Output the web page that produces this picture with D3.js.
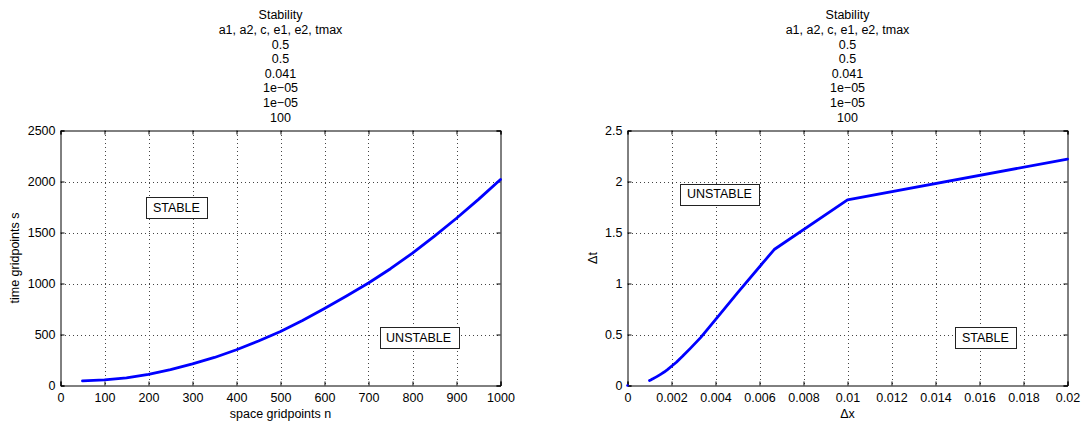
<!DOCTYPE html>
<html>
<head>
<meta charset="utf-8">
<script src="https://cdn.jsdelivr.net/npm/d3@7"></script>
<style>
  html, body { margin: 0; padding: 0; background: #fff; }
  svg { display: block; }
  text { font-family: "Liberation Sans", Arial, Helvetica, sans-serif; fill: #000; }
</style>
</head>
<body>
<svg id="chart" width="1083" height="421"></svg>
<script>
// ---------------- data ----------------
const titleLines = ["Stability", "a1, a2, c, e1, e2, tmax", "0.5", "0.5", "0.041", "1e\u221205", "1e\u221205", "100"];

// left panel: space gridpoints n vs time gridpoints s
const spaceGridpoints = [50, 100, 150, 200, 250, 300, 350, 400, 450, 500, 550, 600, 650, 700, 750, 800, 850, 900, 950, 1000];
const timeGridpoints  = [45, 55, 75, 110, 155, 212, 275, 350, 436, 530, 638, 755, 878, 1005, 1145, 1298, 1465, 1640, 1825, 2020];

// right panel: dx vs dt
const dxValues = [0.02, 0.01, 0.006667, 0.005, 0.004, 0.003333, 0.002857, 0.0025, 0.002222, 0.002, 0.001818, 0.001667, 0.001538, 0.001429, 0.001333, 0.00125, 0.001176, 0.001111, 0.001053, 0.001];
const dtValues = [2.22, 1.82, 1.333, 0.909, 0.645, 0.472, 0.364, 0.286, 0.228, 0.189, 0.156, 0.132, 0.114, 0.0995, 0.0873, 0.077, 0.068, 0.061, 0.0548, 0.0495];
const originPoint = [0, 0];

// ticks
const leftXTicks = [0, 100, 200, 300, 400, 500, 600, 700, 800, 900, 1000];
const leftXTickLabels = ["0", "100", "200", "300", "400", "500", "600", "700", "800", "900", "1000"];
const leftYTicks = [0, 500, 1000, 1500, 2000, 2500];
const leftYTickLabels = ["0", "500", "1000", "1500", "2000", "2500"];
const rightXTicks = [0, 0.002, 0.004, 0.006, 0.008, 0.01, 0.012, 0.014, 0.016, 0.018, 0.02];
const rightXTickLabels = ["0", "0.002", "0.004", "0.006", "0.008", "0.01", "0.012", "0.014", "0.016", "0.018", "0.02"];
const rightYTicks = [0, 0.5, 1, 1.5, 2, 2.5];
const rightYTickLabels = ["0", "0.5", "1", "1.5", "2", "2.5"];

// annotations [x, y, label]
const leftAnnotations = [[210, 1745, "STABLE"], [740, 472, "UNSTABLE"]];
const rightAnnotations = [[0.0027, 1.877, "UNSTABLE"], [0.0152, 0.468, "STABLE"]];

// ---------------- drawing ----------------
const svg = d3.select("#chart");
const FS = 12.5;
const plotTop = 130.5, plotBottom = 385.5;

function panel(cfg) {
  const x = d3.scaleLinear().domain(cfg.xDomain).range([cfg.x0, cfg.x1]);
  const y = d3.scaleLinear().domain(cfg.yDomain).range([plotBottom, plotTop]);
  const g = svg.append("g");

  // grid
  const grid = g.append("g").attr("stroke", "#444").attr("stroke-width", 1)
    .attr("stroke-dasharray", "1,3").attr("shape-rendering", "crispEdges");
  grid.selectAll("line.vx").data(cfg.xTicks.slice(1, -1)).join("line")
    .attr("class", "vx")
    .attr("x1", d => Math.round(x(d)) + 0.5).attr("x2", d => Math.round(x(d)) + 0.5)
    .attr("y1", plotTop).attr("y2", plotBottom);
  grid.selectAll("line.hy").data(cfg.yTicks.slice(1, -1)).join("line")
    .attr("class", "hy")
    .attr("y1", d => Math.round(y(d)) + 0.5).attr("y2", d => Math.round(y(d)) + 0.5)
    .attr("x1", cfg.x0).attr("x2", cfg.x1);

  // axes
  const fmtX = (d, i) => cfg.xLabels[i];
  const fmtY = (d, i) => cfg.yLabels[i];
  const axB = g.append("g").attr("transform", `translate(0,${plotBottom})`)
    .call(d3.axisBottom(x).tickValues(cfg.xTicks).tickFormat(fmtX).tickSize(-4).tickPadding(8));
  const axT = g.append("g").attr("transform", `translate(0,${plotTop})`)
    .call(d3.axisTop(x).tickValues(cfg.xTicks).tickFormat("").tickSize(-4));
  const axL = g.append("g").attr("transform", `translate(${cfg.x0},0)`)
    .call(d3.axisLeft(y).tickValues(cfg.yTicks).tickFormat(fmtY).tickSize(-4).tickPadding(5));
  const axR = g.append("g").attr("transform", `translate(${cfg.x1},0)`)
    .call(d3.axisRight(y).tickValues(cfg.yTicks).tickFormat("").tickSize(-4));
  [axB, axT, axL, axR].forEach(a => {
    a.select(".domain").attr("stroke", "#000").attr("stroke-width", 1);
    a.selectAll(".tick line").attr("stroke", "#000");
    a.selectAll("text").attr("font-size", FS).attr("font-family", "Liberation Sans, Arial, sans-serif").attr("fill", "#000");
    a.attr("font-size", FS);
  });

  // line
  const pts = cfg.xs.map((v, i) => [v, cfg.ys[i]]);
  g.append("path").datum(pts)
    .attr("fill", "none").attr("stroke", "#0000ff").attr("stroke-width", 2.8)
    .attr("stroke-linejoin", "round").attr("stroke-linecap", "round")
    .attr("d", d3.line().x(d => x(d[0])).y(d => y(d[1])));

  if (cfg.origin) {
    g.append("circle").attr("cx", x(cfg.origin[0])).attr("cy", y(cfg.origin[1]))
      .attr("r", 1.3).attr("fill", "#0000ff");
  }

  // annotations
  cfg.annotations.forEach(a => {
    const ag = g.append("g");
    const rect = ag.append("rect");
    const t = ag.append("text").attr("x", x(a[0])).attr("y", y(a[1]) + FS * 0.35)
      .attr("font-size", FS).text(a[2]);
    const bb = t.node().getBBox();
    rect.attr("x", Math.round(bb.x - 6.5) + 0.5).attr("y", Math.round(y(a[1]) - 10.5) + 0.5)
      .attr("width", Math.round(bb.width + 14)).attr("height", 21)
      .attr("fill", "#fff").attr("stroke", "#222").attr("stroke-width", 1);
  });

  // axis labels
  const cx = (cfg.x0 + cfg.x1) / 2;
  g.append("text").attr("x", cx).attr("y", 417.5).attr("text-anchor", "middle")
    .attr("font-size", FS).text(cfg.xTitle);
  g.append("text").attr("transform", `translate(${cfg.yTitleX},${(plotTop + plotBottom) / 2}) rotate(-90)`)
    .attr("text-anchor", "middle").attr("dy", "0.35em").attr("font-size", FS).text(cfg.yTitle);

  // title
  g.append("g").selectAll("text").data(titleLines).join("text")
    .attr("x", cx).attr("y", (d, i) => 15 + i * 14.6 + 4.4)
    .attr("text-anchor", "middle").attr("font-size", FS).text(d => d);
}

panel({
  x0: 60.5, x1: 500.5, xDomain: [0, 1000], yDomain: [0, 2500],
  xTicks: leftXTicks, xLabels: leftXTickLabels, yTicks: leftYTicks, yLabels: leftYTickLabels,
  xs: spaceGridpoints, ys: timeGridpoints, annotations: leftAnnotations,
  xTitle: "space gridpoints n", yTitle: "time gridpoints s", yTitleX: 15
});

panel({
  x0: 627.5, x1: 1067.5, xDomain: [0, 0.02], yDomain: [0, 2.5],
  xTicks: rightXTicks, xLabels: rightXTickLabels, yTicks: rightYTicks, yLabels: rightYTickLabels,
  xs: dxValues, ys: dtValues, annotations: rightAnnotations, origin: originPoint,
  xTitle: "\u0394x", yTitle: "\u0394t", yTitleX: 593
});
</script>
</body>
</html>
